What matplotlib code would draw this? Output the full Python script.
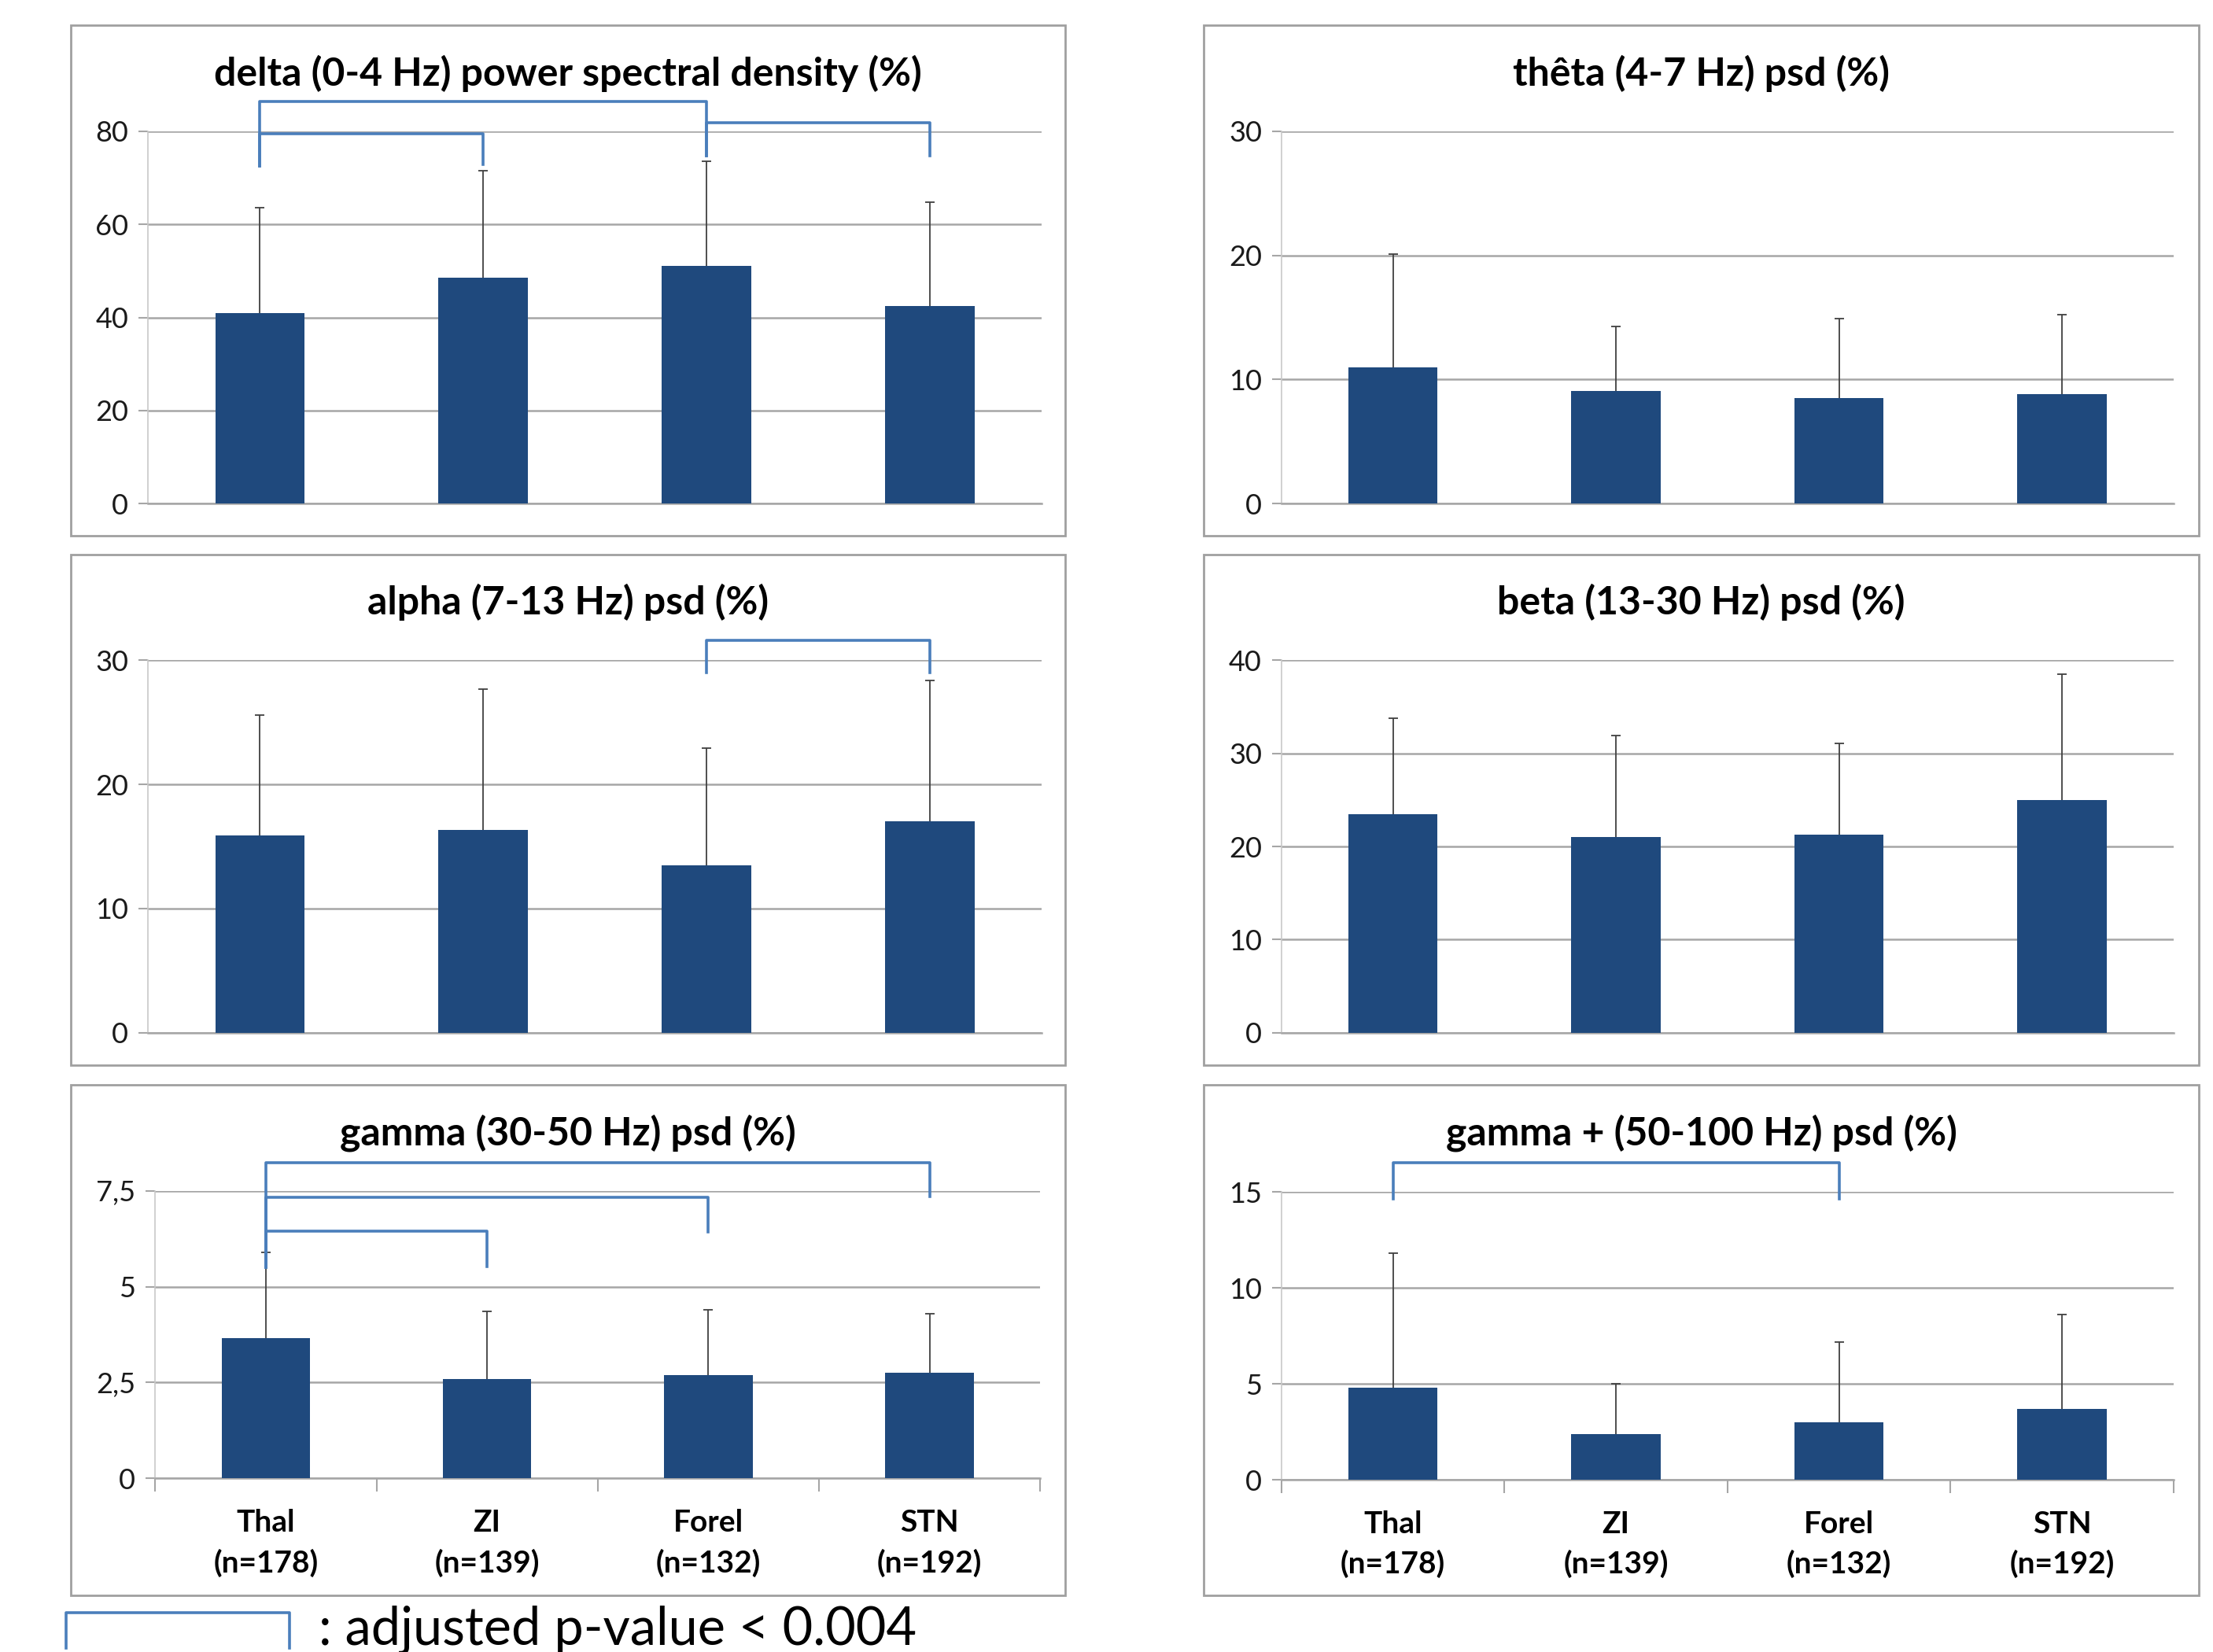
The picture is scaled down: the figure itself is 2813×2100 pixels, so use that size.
import matplotlib
matplotlib.use('Agg')
import matplotlib.pyplot as plt
import matplotlib.ticker as mticker
from matplotlib.patches import Rectangle

plt.rcParams['font.family'] = ['Lato', 'DejaVu Sans']

# groups
groups = ['Thal', 'ZI', 'Forel', 'STN']
group_n = ['(n=178)', '(n=139)', '(n=132)', '(n=192)']

# mean and upper sd per band
delta_mean = [41.0, 48.5, 51.0, 42.5]
delta_sd = [22.5, 23.0, 22.5, 22.3]
theta_mean = [11.0, 9.1, 8.5, 8.8]
theta_sd = [9.1, 5.2, 6.4, 6.4]
alpha_mean = [15.9, 16.3, 13.5, 17.0]
alpha_sd = [9.7, 11.4, 9.4, 11.4]
beta_mean = [23.5, 21.0, 21.3, 25.0]
beta_sd = [10.3, 10.9, 9.8, 13.5]
gamma_mean = [3.65, 2.6, 2.7, 2.75]
gamma_sd = [2.25, 1.75, 1.7, 1.55]
gammap_mean = [4.8, 2.4, 3.0, 3.7]
gammap_sd = [7.0, 2.6, 4.2, 4.9]

titles = ['delta (0-4 Hz) power spectral density (%)', 'thêta (4-7 Hz) psd (%)',
          'alpha (7-13 Hz) psd (%)', 'beta (13-30 Hz) psd (%)',
          'gamma (30-50 Hz) psd (%)', 'gamma + (50-100 Hz) psd (%)']
yticks = [[0, 20, 40, 60, 80], [0, 10, 20, 30], [0, 10, 20, 30],
          [0, 10, 20, 30, 40], [0, 2.5, 5, 7.5], [0, 5, 10, 15]]
ytick_labels = [['0', '20', '40', '60', '80'], ['0', '10', '20', '30'],
                ['0', '10', '20', '30'], ['0', '10', '20', '30', '40'],
                ['0', '2,5', '5', '7,5'], ['0', '5', '10', '15']]

# significant pairs: (i, j, bracket top, left end, right end)
brackets = [
    [(0, 2, 86.3, 72.5, 74.8), (0, 1, 79.4, 72.5, 72.9), (2, 3, 81.9, 74.8, 74.8)],
    [],
    [(2, 3, 31.6, 29.0, 29.0)],
    [],
    [(0, 3, 8.22, 5.5, 7.34), (0, 2, 7.33, 5.5, 6.42), (0, 1, 6.45, 5.5, 5.53)],
    [(0, 2, 16.53, 14.66, 14.66)],
]

means = [delta_mean, theta_mean, alpha_mean, beta_mean, gamma_mean, gammap_mean]
sds = [delta_sd, theta_sd, alpha_sd, beta_sd, gamma_sd, gammap_sd]

BAR = '#1F497D'
BRK = '#4A7EBB'
GRID = '#A6A6A6'

W, H = 1568.0, 1171.0

def fig_rect(x0, y0, x1, y1):
    return [x0 / W, 1 - y1 / H, (x1 - x0) / W, (y1 - y0) / H]

fig = plt.figure(figsize=(28.13, 21.0), dpi=100)

panels = [(50, 18, 755, 380), (853, 18, 1558, 380),
          (50, 393, 755, 755), (853, 393, 1558, 755),
          (50, 769, 755, 1131), (853, 769, 1558, 1131)]
axes_px = [(105, 93, 738, 357), (908, 93, 1540, 357),
           (105, 468, 738, 732), (908, 468, 1540, 732),
           (110, 844, 737, 1048), (908, 845, 1540, 1049)]
title_y = [52, 52, 427, 427, 803, 803]

for k in range(6):
    px0, py0, px1, py1 = panels[k]
    fig.patches.append(Rectangle((px0 / W, 1 - py1 / H), (px1 - px0) / W, (py1 - py0) / H,
                                 transform=fig.transFigure, fill=False,
                                 edgecolor='#A0A0A0', lw=2))
    fig.text((px0 + px1) / 2 / W, 1 - title_y[k] / H, titles[k], ha='center', va='center',
             fontsize=36, fontweight='bold')

    ax = fig.add_axes(fig_rect(*axes_px[k]))
    x = range(len(groups))
    ax.bar(x, means[k], width=0.4, color=BAR, zorder=3)
    eb = ax.errorbar(x, means[k], yerr=[[0] * 4, sds[k]], fmt='none', ecolor='#404040',
                     elinewidth=1.3, capsize=4, capthick=1.3, zorder=4)
    eb[1][0].set_visible(False)  # no cap at the bar top

    ax.set_xlim(-0.5, 3.5)
    ax.set_ylim(0, yticks[k][-1])
    ax.yaxis.set_major_locator(mticker.FixedLocator(yticks[k]))
    ax.set_yticklabels(ytick_labels[k])
    ax.yaxis.grid(True, color=GRID, lw=1.8, zorder=0)
    ax.tick_params(axis='y', labelsize=26, length=9, width=1.5, color=GRID, pad=9,
                   labelcolor='#1a1a1a')
    for s in ['top', 'right']:
        ax.spines[s].set_visible(False)
    ax.spines['left'].set_color('#C8C8C8')
    ax.spines['left'].set_linewidth(1.2)
    ax.spines['bottom'].set_color(GRID)
    ax.spines['bottom'].set_linewidth(1.8)

    if k >= 4:
        ax.xaxis.set_major_locator(mticker.FixedLocator([-0.5, 0.5, 1.5, 2.5, 3.5]))
        ax.xaxis.set_major_formatter(mticker.NullFormatter())
        ax.xaxis.set_minor_locator(mticker.FixedLocator(list(x)))
        ax.set_xticklabels([g + '\n' + n for g, n in zip(groups, group_n)], minor=True,
                           fontsize=28, fontweight='bold', linespacing=1.5)
        ax.tick_params(axis='x', which='major', length=12, width=1.5, color=GRID)
        ax.tick_params(axis='x', which='minor', length=0, pad=28)
    else:
        ax.set_xticks([])

    for i, j, top, yl, yr in brackets[k]:
        ax.plot([i, i, j, j], [yl, top, top, yr], color=BRK, lw=2.6,
                clip_on=False, zorder=5)

# legend at bottom
fig.lines.append(plt.Line2D([47 / W, 47 / W, 205 / W, 205 / W],
                            [1 - 1168 / H, 1 - 1143 / H, 1 - 1143 / H, 1 - 1168 / H],
                            transform=fig.transFigure, color=BRK, lw=2.6))
fig.text(226 / W, 1 - 1155 / H, ': adjusted p-value < 0.004', ha='left', va='center',
         fontsize=48)

fig.savefig('out.png', dpi=100)
plt.close()
